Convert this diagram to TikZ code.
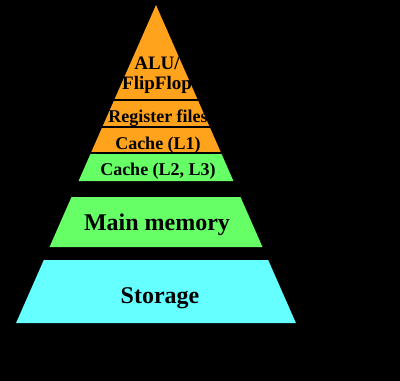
\documentclass[tikz,border=0pt]{standalone}
\usepackage{fontspec}
\setmainfont{Liberation Serif}
\usetikzlibrary{positioning,calc}
\definecolor{tierorange}{RGB}{255,162,28}
\definecolor{tiergreen}{RGB}{102,255,102}
\definecolor{tiercyan}{RGB}{102,255,255}

\begin{document}
\begin{tikzpicture}[
    x=1pt, y=-1pt,
    declare function={hw(\y)=0.44*(\y-5);},
    band/.style={draw=none},
    divider/.style={draw=black, line width=1.6pt},
    tier/.style={font=\bfseries, text=black, align=center, inner sep=0pt}
]

% Background
\fill[black] (0,0) rectangle (400,381);
\useasboundingbox (0,0) rectangle (400,381);

% Top: orange triangle (ALU, registers, L1)
\fill[band, tierorange] (156,5) -- ({156+hw(153)},153) -- ({156-hw(153)},153) -- cycle;
\draw[divider] ({156-hw(100)},100) -- ({156+hw(100)},100);
\draw[divider] ({156-hw(127)},127) -- ({156+hw(127)},127);
\draw[divider] ({156-hw(153)},153) -- ({156+hw(153)},153);

% Middle: green bands
\fill[band, tiergreen] ({156-hw(154)},154) -- ({156+hw(154)},154) -- ({156+hw(181)},181) -- ({156-hw(181)},181) -- cycle;
\fill[band, tiergreen] ({156-hw(197)},197) -- ({156+hw(197)},197) -- ({156+hw(247)},247) -- ({156-hw(247)},247) -- cycle;

% Bottom: storage
\fill[band, tiercyan] ({156-hw(260)},260) -- ({156+hw(260)},260) -- ({156+hw(323)},323) -- ({156-hw(323)},323) -- cycle;

% Labels
\node[tier, font=\bfseries\fontsize{19}{20}\selectfont] (alu) at (157,75) {ALU/\\FlipFlop};
\node[tier, font=\bfseries\fontsize{18}{20}\selectfont] (reg) at (158,118) {Register files};
\node[tier, font=\bfseries\fontsize{18}{20}\selectfont] (lone) at (158,145) {Cache (L1)};
\node[tier, font=\bfseries\fontsize{18}{20}\selectfont] (ltwo) at (158,171) {Cache (L2, L3)};
\node[tier, font=\bfseries\fontsize{24}{26}\selectfont] (main) at (157,225) {Main memory};
\node[tier, font=\bfseries\fontsize{24}{26}\selectfont] (disk) at (160,298) {Storage};

\end{tikzpicture}
\end{document}
